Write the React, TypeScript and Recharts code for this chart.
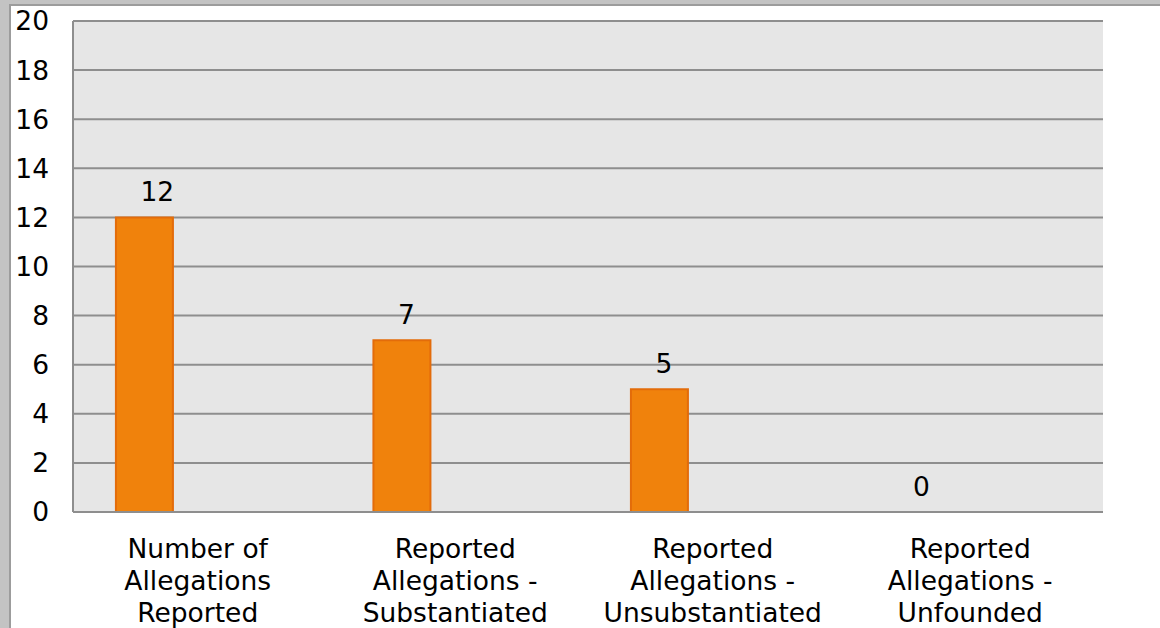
import React from "react";
import { BarChart, Bar, XAxis, YAxis, CartesianGrid, LabelList, Rectangle } from "recharts";

// categories (line breaks as in the original wrapped labels)
const categories = [
  "Number of\nAllegations\nReported",
  "Reported\nAllegations -\nSubstantiated",
  "Reported\nAllegations -\nUnsubstantiated",
  "Reported\nAllegations -\nUnfounded",
];

const allegations = [12, 7, 5, 0];

const yTicks = [0, 2, 4, 6, 8, 10, 12, 14, 16, 18, 20];

// the original chart reserves room for two more (empty) series per category
const data = categories.map((name, i) => ({
  name,
  allegations: allegations[i],
  empty1: null,
  empty2: null,
}));

const FONT = "'DejaVu Sans', Verdana, sans-serif";
const FS = 26.5;

const CategoryTick = (props: any) => {
  const { x, y, payload } = props;
  const lines = String(payload.value).split("\n");
  return (
    <text x={x - 4} y={y} textAnchor="middle" fontSize={FS} fill="#000" fontFamily={FONT}>
      {lines.map((line, i) => (
        <tspan key={i} x={x - 4} dy={i === 0 ? 46 : 32}>
          {line}
        </tspan>
      ))}
    </text>
  );
};

// zero-valued bars keep their label but draw no rectangle
const BarShape = (props: any) => (props.height < 1 ? <g /> : <Rectangle {...props} />);

// Excel-style value label: starts just left of the bar centre
const ValueLabel = (props: any) => {
  const { x, y, width, value } = props;
  return (
    <text x={x + width / 2 - 4} y={y - 16} textAnchor="start" fontSize={FS} fill="#000" fontFamily={FONT}>
      {value}
    </text>
  );
};

const App = () => {
  return (
    <div style={{ position: "absolute", left: 0, top: 0, width: 1160, height: 628, background: "#c3c3c3", overflow: "hidden" }}>
      <div
        style={{
          position: "absolute",
          left: 9,
          top: 4,
          right: 0,
          bottom: 0,
          background: "#fff",
          borderLeft: "2px solid #9c9c9c",
          borderTop: "2px solid #9c9c9c",
        }}
      />
      <div style={{ position: "absolute", left: 0, top: 0 }}>
        <BarChart
          width={1160}
          height={628}
          data={data}
          margin={{ top: 21, right: 57, left: 0, bottom: 0 }}
          barCategoryGap="16.67%"
          barGap={0}
        >
          <CartesianGrid vertical={false} fill="#e6e6e6" stroke="#8e8e8e" strokeWidth={2} />
          <XAxis
            dataKey="name"
            height={116}
            tickSize={0}
            tickMargin={0}
            axisLine={{ stroke: "#8e8e8e", strokeWidth: 2 }}
            tick={<CategoryTick />}
            interval={0}
          />
          <YAxis
            width={73}
            domain={[0, 20]}
            ticks={yTicks}
            tickSize={0}
            tickMargin={24}
            axisLine={{ stroke: "#8e8e8e", strokeWidth: 2 }}
            tick={{ fontSize: FS, fill: "#000", fontFamily: FONT }}
          />
          <Bar
            dataKey="allegations"
            fill="#f0820c"
            stroke="#e36c0a"
            strokeWidth={2}
            minPointSize={0.01}
            shape={BarShape}
            isAnimationActive={false}
          >
            <LabelList dataKey="allegations" content={<ValueLabel />} />
          </Bar>
          <Bar dataKey="empty1" fill="#4f81bd" isAnimationActive={false} />
          <Bar dataKey="empty2" fill="#9bbb59" isAnimationActive={false} />
        </BarChart>
      </div>
    </div>
  );
};

export default App;
